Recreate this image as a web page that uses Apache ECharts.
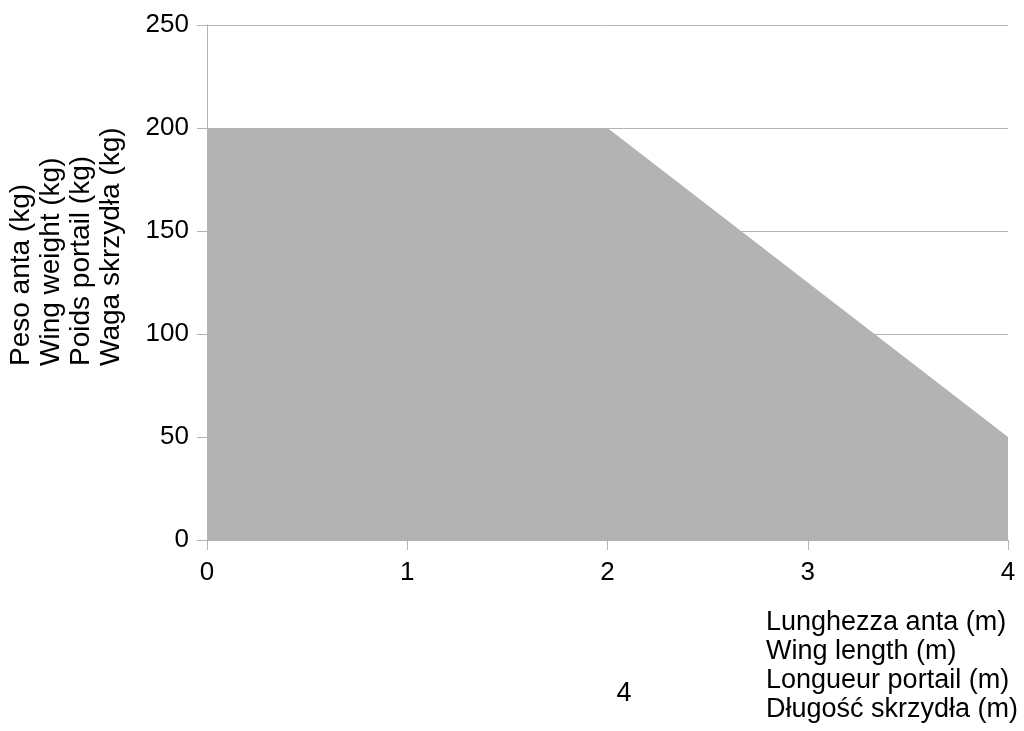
<!DOCTYPE html>
<html><head><meta charset="utf-8">
<script src="https://cdn.jsdelivr.net/npm/echarts@6/dist/echarts.min.js"></script>
<style>html,body{margin:0;padding:0;background:#fff}#c{width:1024px;height:731px}</style>
</head><body><div id="c"></div>
<script>
var xValues = [0, 2, 4];
var yValues = [200, 200, 50];
var yTicks = [0, 50, 100, 150, 200, 250];
var xTicks = [0, 1, 2, 3, 4];
var yNameLines = ['Peso anta (kg)', 'Wing weight (kg)', 'Poids portail (kg)', 'Waga skrzydła (kg)'];
var xNameLines = ['Lunghezza anta (m)', 'Wing length (m)', 'Longueur portail (m)', 'Długość skrzydła (m)'];
var pageLabel = '4';

var FONT = '"Liberation Sans", Arial, sans-serif';
var FS = 26;
var chart = echarts.init(document.getElementById('c'));
chart.setOption({
  backgroundColor: '#fff',
  animation: false,
  grid: { left: 207, right: 16, top: 25, bottom: 191, containLabel: false },
  xAxis: {
    type: 'value', min: xTicks[0], max: xTicks[xTicks.length - 1], interval: 1,
    axisLine: { show: true, lineStyle: { color: '#b3b3b3', width: 1 } },
    axisTick: { show: true, length: 10, lineStyle: { color: '#b3b3b3' } },
    axisLabel: { color: '#000', fontFamily: FONT, fontSize: FS, margin: 20 },
    splitLine: { show: false }
  },
  yAxis: {
    type: 'value', min: yTicks[0], max: yTicks[yTicks.length - 1], interval: 50,
    axisLine: { show: true, lineStyle: { color: '#b3b3b3', width: 1 } },
    axisTick: { show: true, length: 10, lineStyle: { color: '#b3b3b3' } },
    axisLabel: { color: '#000', fontFamily: FONT, fontSize: FS, margin: 18 },
    splitLine: { show: true, lineStyle: { color: '#b3b3b3', width: 1 } }
  },
  series: [{
    type: 'line',
    data: xValues.map(function (x, i) { return [x, yValues[i]]; }),
    symbol: 'none',
    lineStyle: { width: 0, color: '#b3b3b3' },
    itemStyle: { color: '#b3b3b3' },
    areaStyle: { color: '#b3b3b3', opacity: 1 },
    z: 2
  }],
  graphic: [
    {
      type: 'text', x: 6, y: 366, rotation: Math.PI / 2,
      style: { text: yNameLines.join('\n'), font: '28px ' + FONT, fill: '#000',
               align: 'left', verticalAlign: 'top', lineHeight: 30 }
    },
    {
      type: 'text', x: 766, y: 608,
      style: { text: xNameLines.join('\n'), font: '27px ' + FONT, fill: '#000',
               align: 'left', verticalAlign: 'top', lineHeight: 29 }
    },
    {
      type: 'text', x: 624, y: 694,
      style: { text: pageLabel, font: '27px ' + FONT, fill: '#000',
               align: 'center', verticalAlign: 'middle' }
    }
  ]
});
</script></body></html>
